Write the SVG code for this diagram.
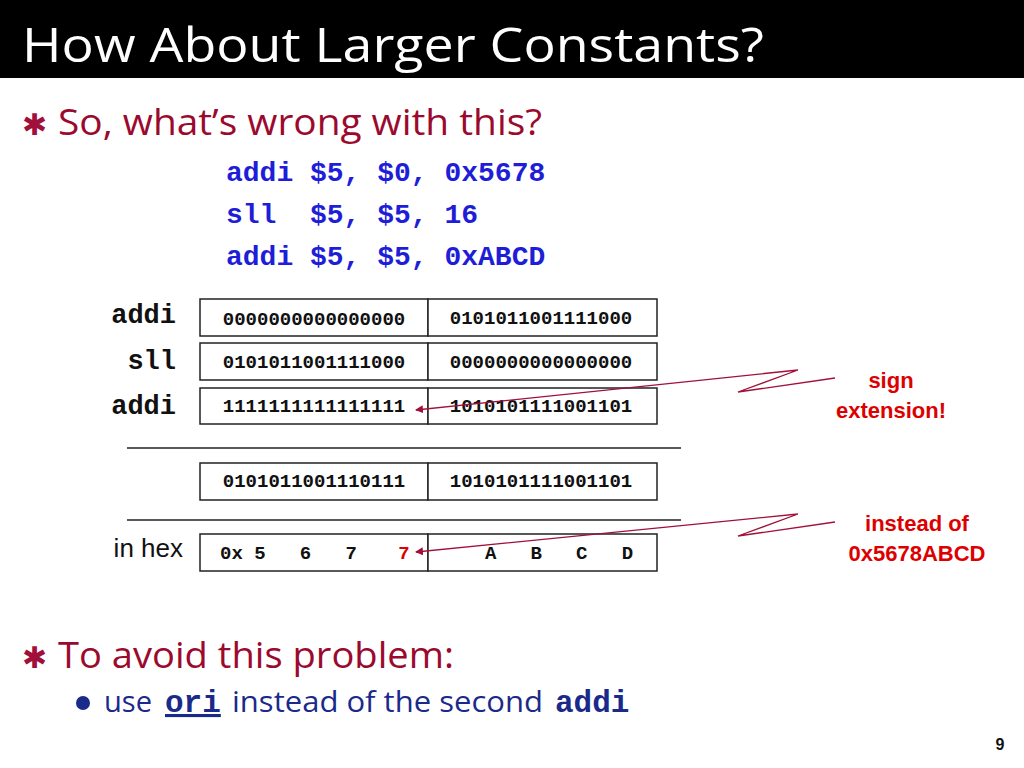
<svg xmlns="http://www.w3.org/2000/svg" width="1024" height="768" viewBox="0 0 1024 768">
<style>
.ttl{font-family:"Open Sans","Liberation Sans",sans-serif;fill:#fff}
.red{font-family:"Open Sans","Liberation Sans",sans-serif;fill:#9b0a2e}
.code{font-family:"Liberation Mono",monospace;font-weight:bold;fill:#1e1ed8;font-size:28px;white-space:pre}
.bin{font-family:"Liberation Mono",monospace;font-size:19px;fill:#111;font-weight:bold;white-space:pre}
.mid{text-anchor:middle}
.lab{font-family:"Liberation Mono",monospace;font-weight:bold;font-size:27px;fill:#111;text-anchor:end}
.box{fill:#fff;stroke:#222;stroke-width:1.5}
.note{font-family:"Liberation Sans",sans-serif;font-weight:bold;font-size:22px;fill:#d00;text-anchor:middle}
.conn{fill:none;stroke:#a0103a;stroke-width:1.3}
</style>
<defs><marker id="ah" markerWidth="8" markerHeight="8" refX="7" refY="4" orient="auto" markerUnits="userSpaceOnUse"><path d="M0,0 L8,4 L0,8 Z" fill="#a0103a"/></marker></defs>
<rect x="0" y="0" width="1024" height="78" fill="#000"/>
<text class="ttl" x="22" y="62" font-size="48" textLength="742" lengthAdjust="spacingAndGlyphs">How About Larger Constants?</text>
<text x="22" y="135" font-size="30" fill="#a0103a" font-family="DejaVu Sans,sans-serif">✱</text>
<text class="red" x="58" y="135" font-size="36" textLength="484" lengthAdjust="spacingAndGlyphs">So, what’s wrong with this?</text>
<text class="code" x="226" y="181">addi $5, $0, 0x5678</text>
<text class="code" x="226" y="223">sll  $5, $5, 16</text>
<text class="code" x="226" y="265">addi $5, $5, 0xABCD</text>
<g id="labels">
<text class="lab" x="176" y="323">addi</text>
<text class="lab" x="176" y="369">sll</text>
<text class="lab" x="176" y="414">addi</text>
<text x="183" y="557" font-family="Liberation Sans,sans-serif" font-size="26" text-anchor="end" fill="#111">in hex</text>
</g>
<g id="row1"><rect class="box" x="200" y="299" width="228" height="37"/><rect class="box" x="428" y="299" width="229" height="37"/>
<text class="bin mid" x="314" y="325">0000000000000000</text><text class="bin mid" x="541" y="324">0101011001111000</text></g>
<g id="row2"><rect class="box" x="200" y="343" width="228" height="37"/><rect class="box" x="428" y="343" width="229" height="37"/>
<text class="bin mid" x="314" y="368">0101011001111000</text><text class="bin mid" x="541" y="368">0000000000000000</text></g>
<g id="row3"><rect class="box" x="200" y="388" width="228" height="36"/><rect class="box" x="428" y="388" width="229" height="36"/>
<text class="bin mid" x="314" y="412">1111111111111111</text><text class="bin mid" x="541" y="412">1010101111001101</text></g>
<line x1="127" y1="448" x2="681" y2="448" stroke="#222" stroke-width="1.5"/>
<g id="row4"><rect class="box" x="200" y="463" width="228" height="37"/><rect class="box" x="428" y="463" width="229" height="37"/>
<text class="bin mid" x="314" y="487">0101011001110111</text><text class="bin mid" x="541" y="487">1010101111001101</text></g>
<line x1="127" y1="520" x2="681" y2="520" stroke="#222" stroke-width="1.5"/>
<g id="row5"><rect class="box" x="200" y="534" width="228" height="37"/><rect class="box" x="428" y="534" width="229" height="37"/>
<text class="bin" x="220" y="559">0x 5   6   7</text>
<text class="bin mid" x="404" y="559" style="fill:#d00">7</text>
<text class="bin mid" x="559" y="559">A   B   C   D</text></g>
<g id="connectors">
<path class="conn" d="M835,378 L738,392 L798,370 L416,410" marker-end="url(#ah)"/>
<path class="conn" d="M835,522 L738,536 L798,514 L416,552" marker-end="url(#ah)"/>
</g>
<g id="notes">
<text class="note" x="891" y="388">sign</text>
<text class="note" x="891" y="418">extension!</text>
<text class="note" x="917" y="531">instead of</text>
<text class="note" x="917" y="561">0x5678ABCD</text>
</g>
<text x="22" y="668" font-size="30" fill="#a0103a" font-family="DejaVu Sans,sans-serif">✱</text>
<text class="red" x="58" y="668" font-size="36" textLength="396" lengthAdjust="spacingAndGlyphs">To avoid this problem:</text>
<circle cx="83" cy="703" r="7" fill="#1a2a8a"/>
<g font-size="30" fill="#1a2a8a" font-family="Open Sans,Liberation Sans,sans-serif">
<text x="104" y="712" textLength="48" lengthAdjust="spacingAndGlyphs">use</text>
<text x="165" y="712" font-family="Liberation Mono,monospace" font-weight="bold" font-size="31" text-decoration="underline">ori</text>
<text x="232" y="712" textLength="311" lengthAdjust="spacingAndGlyphs">instead of the second</text>
<text x="555" y="712" font-family="Liberation Mono,monospace" font-weight="bold" font-size="31">addi</text>
</g>
<text x="1000" y="750" font-family="Liberation Sans,sans-serif" font-weight="bold" font-size="16" fill="#111" text-anchor="middle">9</text>
</svg>
